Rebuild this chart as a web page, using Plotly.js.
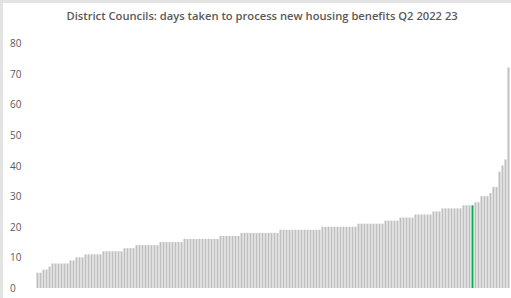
<!DOCTYPE html>
<html>
<head>
<meta charset="utf-8">
<script src="https://cdn.plot.ly/plotly-3.0.1.min.js"></script>
<style>
  html, body { margin: 0; padding: 0; background: #e3e3e3; width: 511px; height: 298px; overflow: hidden; }
  #chart { position: absolute; left: 3px; top: 3px; width: 508px; height: 295px; background: #ffffff; }
</style>
</head>
<body>
<div id="chart"></div>
<script>
// Days taken to process new housing benefit claims, one value per district council (sorted)
const days = [
  5, 5, 6, 6, 7,
  8, 8, 8, 8, 8, 8,
  9, 9,
  10, 10, 10,
  11, 11, 11, 11, 11, 11,
  12, 12, 12, 12, 12, 12, 12,
  13, 13, 13, 13,
  14, 14, 14, 14, 14, 14, 14, 14,
  15, 15, 15, 15, 15, 15, 15, 15,
  16, 16, 16, 16, 16, 16, 16, 16, 16, 16, 16, 16,
  17, 17, 17, 17, 17, 17, 17,
  18, 18, 18, 18, 18, 18, 18, 18, 18, 18, 18, 18, 18,
  19, 19, 19, 19, 19, 19, 19, 19, 19, 19, 19, 19, 19, 19,
  20, 20, 20, 20, 20, 20, 20, 20, 20, 20, 20, 20,
  21, 21, 21, 21, 21, 21, 21, 21, 21,
  22, 22, 22, 22, 22,
  23, 23, 23, 23, 23,
  24, 24, 24, 24, 24, 24,
  25, 25, 25,
  26, 26, 26, 26, 26, 26, 26,
  27, 27, 27, 27,
  28, 28,
  30, 30, 30,
  31,
  33, 33,
  38, 40, 42, 72
];
// Index of the highlighted council (green bar)
const highlightIndex = 145;
const yTicks = [0, 10, 20, 30, 40, 50, 60, 70, 80];
const titleText = "District Councils: days taken to process new housing benefits Q2 2022 23";

const councils = days.map((_, i) => i);
const colors = days.map((_, i) => i === highlightIndex ? "#00b050" : "#bfbfbf");

const trace = {
  type: "bar",
  x: councils,
  y: days,
  marker: { color: colors, line: { width: 0 } },
  hoverinfo: "y"
};

const annotations = yTicks.map(v => ({
  xref: "paper", yref: "y",
  x: -0.059, y: v,
  xanchor: "left", yanchor: "middle",
  text: String(v),
  showarrow: false,
  font: { family: "Open Sans, sans-serif", size: 10, color: "#595959" }
}));

const layout = {
  width: 508, height: 295,
  margin: { l: 33, r: 1, t: 40, b: 10, pad: 0 },
  paper_bgcolor: "#ffffff",
  plot_bgcolor: "#ffffff",
  bargap: 0.33,
  showlegend: false,
  title: {
    text: titleText,
    xref: "container", x: 0.51, xanchor: "center",
    yref: "container", y: 0.955, yanchor: "middle",
    font: { family: "Open Sans, sans-serif", size: 11.2, color: "#595959", weight: 600 }
  },
  xaxis: {
    range: [-0.5, days.length - 0.5],
    showticklabels: false, showgrid: false, zeroline: false, showline: false, ticks: ""
  },
  yaxis: {
    range: [0, 80],
    tickvals: yTicks,
    showticklabels: false, showgrid: false, zeroline: false, showline: false, ticks: ""
  },
  annotations: annotations
};

Plotly.newPlot("chart", [trace], layout, { staticPlot: true, displayModeBar: false });
</script>
</body>
</html>
